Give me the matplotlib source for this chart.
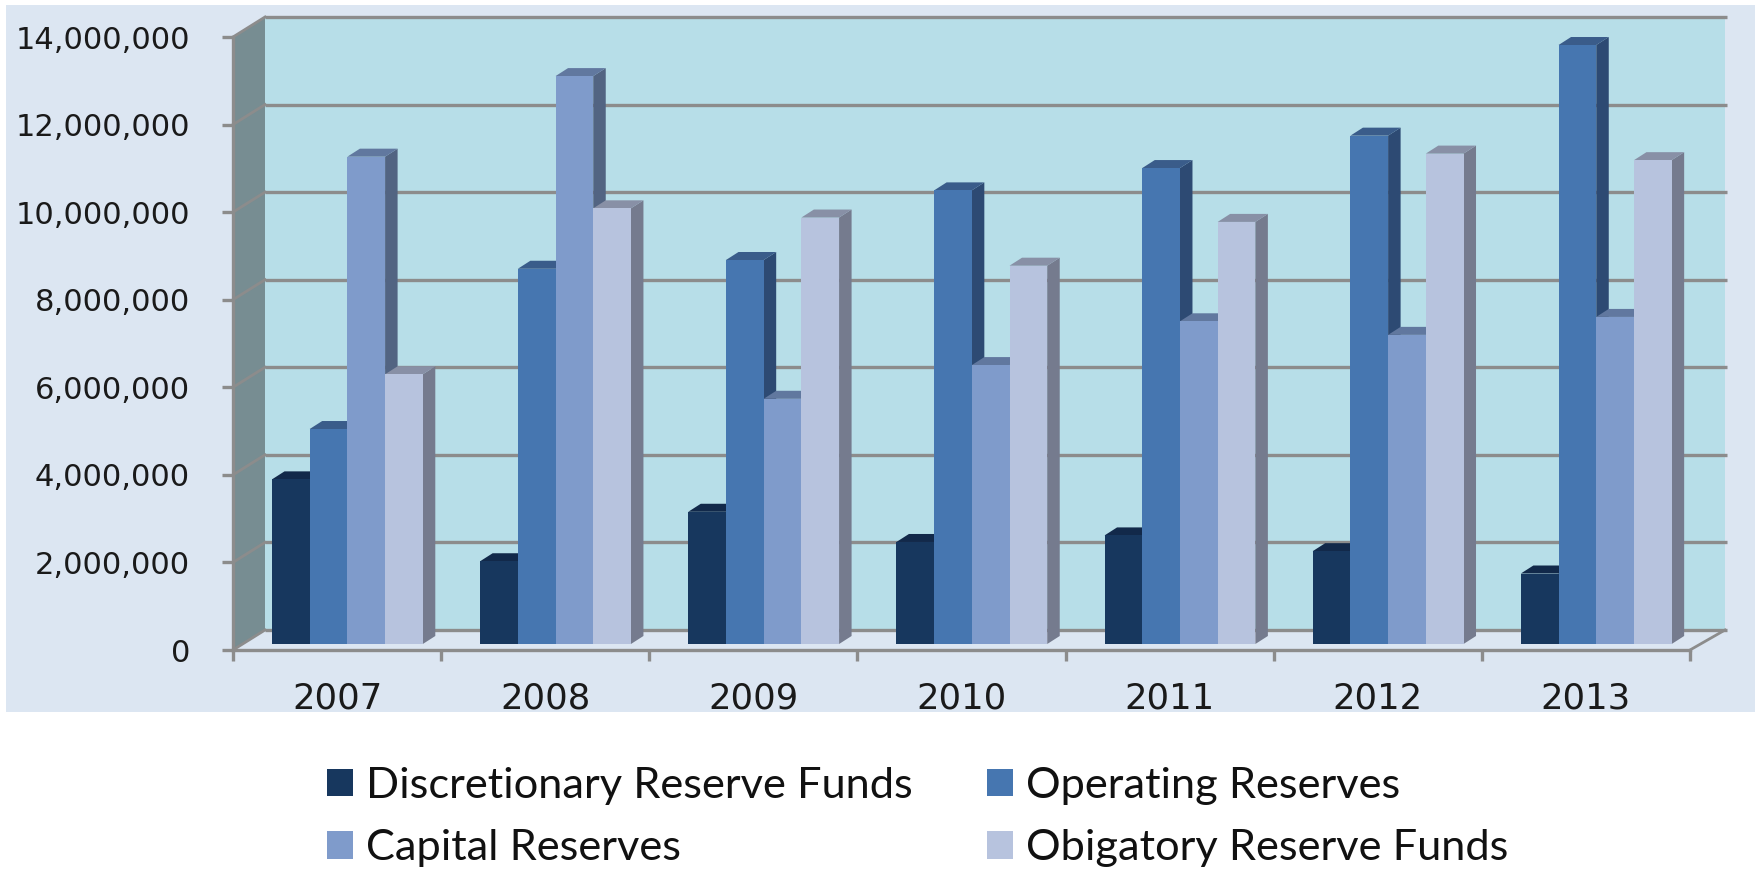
# -*- coding: utf-8 -*-
"""Reserve funds 2007-2013, finto 3D in stile Excel, disegnato con barre normali + poligoni."""
import matplotlib
matplotlib.use("Agg")
import matplotlib.pyplot as plt
from matplotlib.patches import Patch, Rectangle

years = ["2007", "2008", "2009", "2010", "2011", "2012", "2013"]
discretionary = [3760000, 1890000, 3020000, 2330000, 2480000, 2120000, 1610000]
operating = [4910000, 8570000, 8770000, 10360000, 10870000, 11610000, 13680000]
capital = [11130000, 12970000, 5600000, 6370000, 7370000, 7060000, 7470000]
obligatory = [6160000, 9950000, 9740000, 8640000, 9640000, 11200000, 11050000]
series_names = ["Discretionary Reserve Funds", "Operating Reserves", "Capital Reserves", "Obigatory Reserve Funds"]
y_ticks = [0, 2000000, 4000000, 6000000, 8000000, 10000000, 12000000, 14000000]

W, H = 1756, 873
PANEL = "#DCE6F2"
WALL = "#B7DEE8"
SIDEWALL = "#778D92"
GRID = "#8C8C8C"
colors = ["#17375E", "#4676B0", "#7F9BCB", "#B7C3DE"]
tops = ["#12294A", "#3A5C8A", "#61789F", "#8890A6"]
sides = ["#12294A", "#2D4A73", "#526482", "#757B8E"]

# assi = piano frontale del grafico, in pixel dell'immagine
LEFT, RIGHT, BOTTOM, TOP = 233, 1690, 650, 37

fig = plt.figure(figsize=(W / 100, H / 100), dpi=100, facecolor="white")
fig.patches.append(Rectangle((6 / W, 1 - 712 / H), (1755 - 6) / W, (712 - 5) / H, transform=fig.transFigure,
                             facecolor=PANEL, edgecolor="none", zorder=-5))
ax = fig.add_axes([LEFT / W, 1 - BOTTOM / H, (RIGHT - LEFT) / W, (BOTTOM - TOP) / H])
ax.patch.set_visible(False)
ax.set_xlim(0, len(years))
ax.set_ylim(0, 14000000)

px = len(years) / (RIGHT - LEFT)
py = 14000000 / (BOTTOM - TOP)

# pareti e pavimento
wx, wy = 32 * px, 20 * py
ax.fill([wx, 7 + 35 * px, 7 + 35 * px, wx], [wy, wy, 14000000 + wy, 14000000 + wy],
        color=WALL, lw=0, clip_on=False, zorder=1)
ax.fill([0, wx, wx, 0], [0, wy, 14000000 + wy, 14000000], color=SIDEWALL, lw=0, clip_on=False, zorder=1)
ax.fill([0, 7, 7 + 35 * px, wx], [0, 0, wy, wy], color=PANEL, lw=0, clip_on=False, zorder=1)
for v in y_ticks:
    ax.plot([wx, 7 + 37 * px], [v + wy, v + wy], color=GRID, lw=2.4, clip_on=False, zorder=2, solid_capstyle="butt")
    ax.plot([0, wx], [v, v + wy], color=GRID, lw=2, clip_on=False, zorder=2)
ax.plot([7, 7 + 35 * px], [0, wy], color=GRID, lw=2, clip_on=False, zorder=2)

# barre: faccia frontale + lato + tetto
bar_w = 37.7 * px
start = 39 * px
base = 6 * py
ddx, ddy = 12.5 * px, 8 * py
all_series = [discretionary, operating, capital, obligatory]
for j, vals in enumerate(all_series):
    xs = [i + start + j * bar_w for i in range(len(years))]
    z = 3 + j
    ax.bar(xs, vals, width=bar_w, bottom=base, align="edge", color=colors[j], lw=0, zorder=z + 0.5)
    for x0, v in zip(xs, vals):
        t = base + v
        x1 = x0 + bar_w
        ax.fill([x1, x1 + ddx, x1 + ddx, x1], [base, base + ddy, t + ddy, t], color=sides[j], lw=0, zorder=z)
        ax.fill([x0, x0 + ddx, x1 + ddx, x1], [t, t + ddy, t + ddy, t], color=tops[j], lw=0, zorder=z)

# assi
for s in ["top", "right"]:
    ax.spines[s].set_visible(False)
for s in ["left", "bottom"]:
    ax.spines[s].set_color(GRID)
    ax.spines[s].set_linewidth(2.4)
    ax.spines[s].set_zorder(2.5)
ax.set_yticks(y_ticks)
ax.set_yticklabels([f"{v:,}" for v in y_ticks])
ax.tick_params(axis="y", length=8, width=2.4, color=GRID, pad=23, labelsize=22, labelcolor="#1A1A1A")
ax.set_xticks(range(len(years) + 1))
ax.set_xticklabels([])
ax.tick_params(axis="x", which="major", length=8, width=2.4, color=GRID)
ax.set_xticks([i + 0.5 for i in range(len(years))], minor=True)
ax.set_xticklabels(years, minor=True)
ax.tick_params(axis="x", which="minor", length=0, pad=23, labelsize=25.5, labelcolor="#1A1A1A")

# legenda a due colonne (riempie per colonna)
order = [0, 2, 1, 3]
handles = [Patch(facecolor=colors[k], edgecolor="none", label=series_names[k]) for k in order]
leg = fig.legend(handles=handles, loc="upper left", bbox_to_anchor=(327 / W, 1 - 767 / H), ncol=2, frameon=False,
                 prop={"family": "Lato", "size": 31.2}, handlelength=0.6, handleheight=0.6, handletextpad=0.3,
                 labelspacing=0.56, columnspacing=1.72, borderpad=0, borderaxespad=0)
for t in leg.get_texts():
    t.set_color("#111111")

fig.savefig("out.png", dpi=100, facecolor="white")
